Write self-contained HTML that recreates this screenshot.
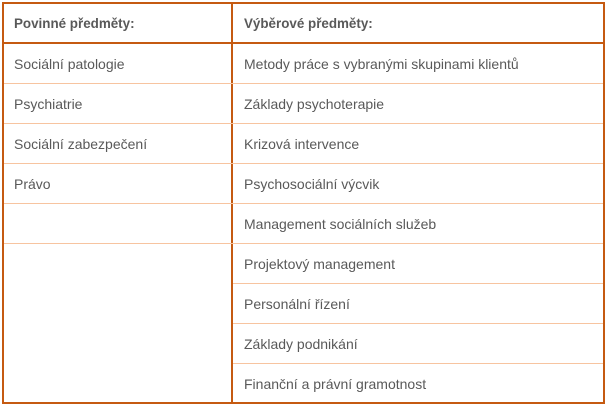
<!DOCTYPE html>
<html><head><meta charset="utf-8"><style>
body{margin:0;width:607px;height:406px;background:#fff;position:relative;overflow:hidden;font-family:"Liberation Sans","DejaVu Sans",sans-serif;font-size:14px;color:#595959}
.b{position:absolute;background:#c55a11}
.l{position:absolute;height:1px;background:#f7c4a0}
.t{position:absolute;line-height:16px;white-space:nowrap}
.h{font-weight:bold;font-size:13.4px}
</style></head><body>
<div class="b" style="left:2px;top:2px;width:603px;height:2px"></div>
<div class="b" style="left:2px;top:402px;width:603px;height:2px"></div>
<div class="b" style="left:2px;top:2px;width:2px;height:402px"></div>
<div class="b" style="left:603px;top:2px;width:2px;height:402px"></div>
<div class="b" style="left:231px;top:2px;width:2px;height:402px"></div>
<div class="b" style="left:2px;top:42px;width:603px;height:2px"></div>
<div class="l" style="left:4px;top:83px;width:599px"></div>
<div class="l" style="left:4px;top:123px;width:599px"></div>
<div class="l" style="left:4px;top:163px;width:599px"></div>
<div class="l" style="left:4px;top:203px;width:599px"></div>
<div class="l" style="left:4px;top:243px;width:599px"></div>
<div class="l" style="left:233px;top:283px;width:370px"></div>
<div class="l" style="left:233px;top:323px;width:370px"></div>
<div class="l" style="left:233px;top:363px;width:370px"></div>
<div class="t h" style="left:14px;top:16px">Povinné předměty:</div>
<div class="t h" style="left:244px;top:16px">Výběrové předměty:</div>
<div class="t" style="left:14px;top:56px">Sociální patologie</div>
<div class="t" style="left:14px;top:96px">Psychiatrie</div>
<div class="t" style="left:14px;top:136px">Sociální zabezpečení</div>
<div class="t" style="left:14px;top:176px">Právo</div>
<div class="t" style="left:244px;top:56px">Metody práce s vybranými skupinami klientů</div>
<div class="t" style="left:244px;top:96px">Základy psychoterapie</div>
<div class="t" style="left:244px;top:136px">Krizová intervence</div>
<div class="t" style="left:244px;top:176px">Psychosociální výcvik</div>
<div class="t" style="left:244px;top:216px">Management sociálních služeb</div>
<div class="t" style="left:244px;top:256px">Projektový management</div>
<div class="t" style="left:244px;top:296px">Personální řízení</div>
<div class="t" style="left:244px;top:336px">Základy podnikání</div>
<div class="t" style="left:244px;top:376px">Finanční a právní gramotnost</div>
</body></html>
